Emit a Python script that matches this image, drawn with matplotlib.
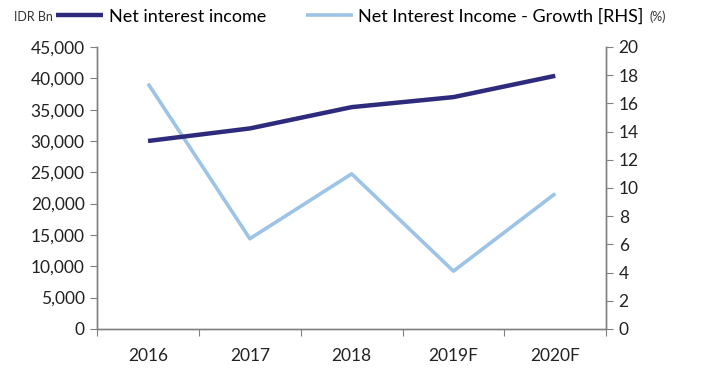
import matplotlib
matplotlib.use("Agg")
import matplotlib.pyplot as plt
import numpy as np

plt.rcParams['font.family'] = ['Lato', 'DejaVu Sans']

years = ['2016', '2017', '2018', '2019F', '2020F']
nii = [30000, 32000, 35400, 37000, 40400]        # IDR Bn
nii_growth = [17.4, 6.4, 11.0, 4.1, 9.6]          # %

navy = '#2e2a7c'
light = '#9dc3e6'
axis_grey = '#808080'

fig = plt.figure(figsize=(7.04, 3.70), dpi=100)
ax = fig.add_axes([0.138, 0.111, 0.723, 0.762])
ax2 = ax.twinx()

x = np.arange(len(years))
l1, = ax.plot(x, nii, color=navy, lw=3.2, solid_capstyle='butt', zorder=3)
l2, = ax2.plot(x, nii_growth, color=light, lw=2.6, solid_capstyle='butt')
ax.set_zorder(ax2.get_zorder() + 1)
ax.patch.set_visible(False)

ax.set_xlim(-0.5, len(years) - 0.5)
ax.set_ylim(0, 45000)
ax2.set_ylim(0, 20)
ax.set_yticks(np.arange(0, 45001, 5000))
ax.set_yticklabels([f'{v:,}' for v in range(0, 45001, 5000)])
ax2.set_yticks(np.arange(0, 21, 2))

# category boundaries carry the tick marks, labels sit at the centres
ax.set_xticks(np.arange(-0.5, len(years), 1.0))
ax.set_xticklabels([])
ax.set_xticks(x, minor=True)
ax.set_xticklabels(years, minor=True)
ax.tick_params(axis='x', which='minor', length=0, pad=14, labelsize=12.5, labelcolor='#222222')
ax.tick_params(axis='x', which='major', length=5, color=axis_grey)

for a in (ax, ax2):
    a.spines['top'].set_visible(False)
    for s in ('left', 'right', 'bottom'):
        a.spines[s].set_color(axis_grey)
        a.spines[s].set_linewidth(1.0)
    a.tick_params(axis='y', length=5, color=axis_grey, labelsize=12.5, pad=4, labelcolor='#222222')

fig.text(0.02, 0.955, 'IDR Bn', fontsize=9, color='#333333', va='center')
fig.text(0.922, 0.955, '(%)', fontsize=9, color='#333333', va='center')

fig.legend([l1, l2], ['Net interest income', 'Net Interest Income - Growth [RHS]'],
           loc='center left', bbox_to_anchor=(0.08, 0.955), ncol=2, frameon=False,
           fontsize=13, handlelength=2.6, handletextpad=0.3, columnspacing=2.2,
           borderaxespad=0, borderpad=0)

fig.savefig('out.png', dpi=100)
